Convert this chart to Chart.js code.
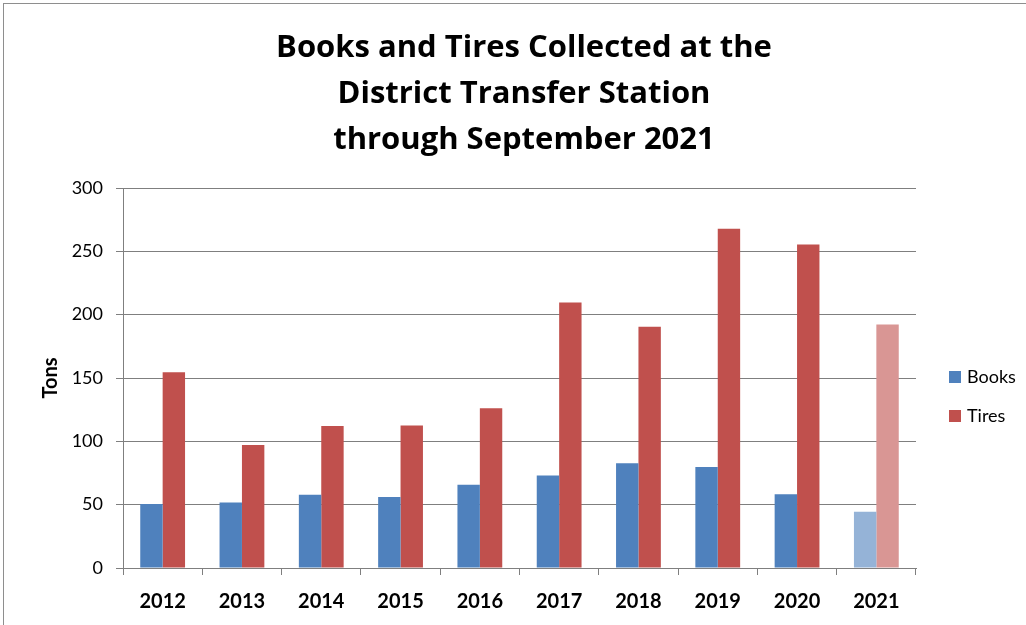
<!DOCTYPE html>
<html>
<head>
<meta charset="utf-8">
<title>Books and Tires Collected</title>
<script src="https://cdn.jsdelivr.net/npm/chart.js@4/dist/chart.umd.min.js"></script>
<style>
  html, body { margin: 0; padding: 0; background: #fff; overflow: hidden; }
  #moldura { position: absolute; left: 3px; top: 3px; width: 1100px; height: 700px; border: 1px solid #8e8e8e; }
  #caixa { position: absolute; left: 0; top: 0; width: 1026px; height: 625px; }
</style>
</head>
<body>
<div id="moldura"></div>
<div id="caixa"><canvas id="myChart"></canvas></div>
<script>
var anos = ["2012", "2013", "2014", "2015", "2016", "2017", "2018", "2019", "2020", "2021"];
var livros = [50.6, 51.8, 57.9, 56.1, 65.8, 73, 82.7, 79.8, 58.2, 44.5];
var pneus = [154.6, 97.2, 112.2, 112.5, 126.2, 209.7, 190.5, 267.9, 255.3, 192.3];
var marcasY = [0, 50, 100, 150, 200, 250, 300];
var titulo = ["Books and Tires Collected at the", "District Transfer Station", "through September 2021"];
var anoParcial = "2021";

// 2021 so vai ate setembro, por isso a cor mais clara
function cores(cheia, clara) {
  return anos.map(function (a) {
    return a === anoParcial ? clara : cheia;
  });
}

// legenda desenhada a mao pra ficar no mesmo lugar do original
var legendaManual = {
  id: "legendaManual",
  afterDraw: function (chart) {
    var ctx = chart.ctx;
    var x = chart.chartArea.right + 33;
    ctx.save();
    ctx.font = "18px Lato";
    ctx.textBaseline = "middle";
    chart.data.datasets.forEach(function (ds, i) {
      var cy = 377 + i * 39;
      ctx.fillStyle = ds.backgroundColor[0];
      ctx.fillRect(x, cy - 6, 12, 12);
      ctx.fillStyle = "#000";
      ctx.fillText(ds.label, x + 18, cy);
    });
    ctx.restore();
  }
};

function graficoBarras() {
  Chart.defaults.font.family = "Lato";
  Chart.defaults.color = "#000";

  new Chart("myChart", {
    type: "bar",
    data: {
      labels: anos,
      datasets: [
        {
          label: "Books",
          data: livros,
          backgroundColor: cores("#4F81BD", "#95B3D7"),
        },
        {
          label: "Tires",
          data: pneus,
          backgroundColor: cores("#C0504D", "#D99694"),
        },
      ],
    },
    options: {
      responsive: true,
      maintainAspectRatio: false,
      animation: false,
      datasets: {
        bar: { categoryPercentage: 0.565, barPercentage: 1 },
      },
      layout: { padding: { left: 22, right: 0, top: 0, bottom: -4 } },
      plugins: {
        legend: { display: false },
        tooltip: { enabled: false },
        title: {
          display: true,
          text: titulo,
          font: { family: "Open Sans", size: 31, weight: "bold", lineHeight: 46 / 31 },
          padding: { top: 25, bottom: 25 },
          color: "#000",
        },
      },
      scales: {
        x: {
          grid: {
            offset: true,
            drawOnChartArea: false,
            color: "#7f7f7f",
            tickLength: 7,
          },
          border: { color: "#7f7f7f" },
          ticks: { font: { size: 20, weight: "bold" }, padding: 15 },
        },
        y: {
          min: 0,
          max: 300,
          afterBuildTicks: function (s) {
            s.ticks = marcasY.map(function (v) { return { value: v }; });
          },
          afterFit: function (s) {
            s.width = 101;
          },
          grid: { color: "#7f7f7f", tickLength: 7 },
          border: { color: "#7f7f7f" },
          ticks: { font: { size: 18 }, padding: 13 },
          title: {
            display: true,
            text: "Tons",
            font: { size: 20, weight: "bold" },
            padding: { top: 17, bottom: 0 },
          },
        },
        // eixo vazio so pra reservar o espaco da legenda a direita
        espaco: {
          position: "right",
          grid: { display: false },
          border: { display: false },
          ticks: { display: false },
          afterFit: function (s) {
            s.width = 110;
          },
        },
      },
    },
    plugins: [legendaManual],
  });
}

graficoBarras();
</script>
</body>
</html>
